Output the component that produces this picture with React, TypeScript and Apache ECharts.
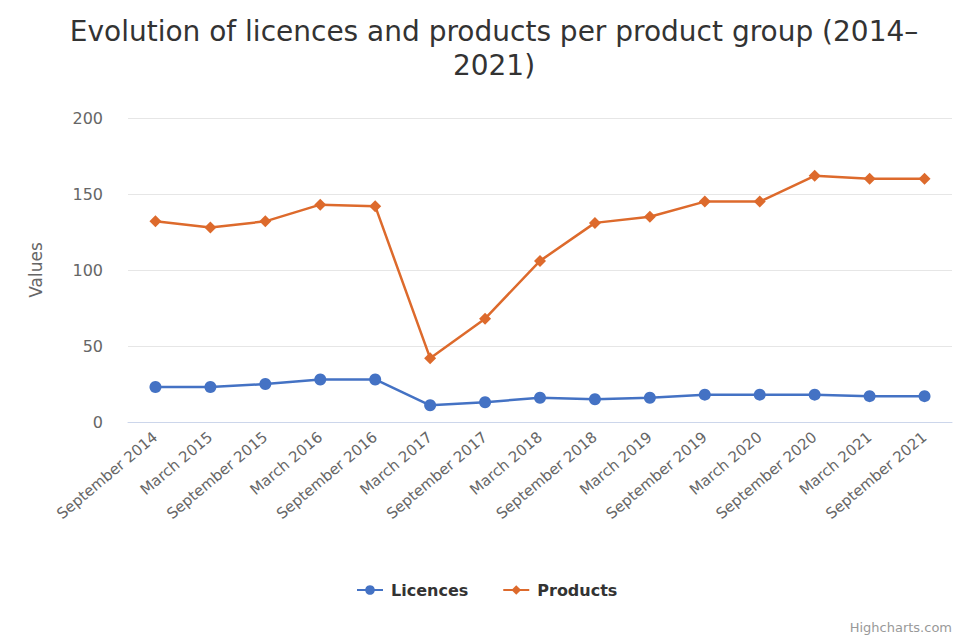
import React, { useEffect, useRef } from "react";
import * as echarts from "echarts";

const categories = [
  "September 2014", "March 2015", "September 2015", "March 2016", "September 2016",
  "March 2017", "September 2017", "March 2018", "September 2018", "March 2019",
  "September 2019", "March 2020", "September 2020", "March 2021", "September 2021",
];
const licences = [23, 23, 25, 28, 28, 11, 13, 16, 15, 16, 18, 18, 18, 17, 17];
const products = [132, 128, 132, 143, 142, 42, 68, 106, 131, 135, 145, 145, 162, 160, 160];

const FONT = "DejaVu Sans";

export default function App() {
  const ref = useRef<HTMLDivElement>(null);
  useEffect(() => {
    if (!ref.current) return;
    const chart = echarts.init(ref.current, undefined, { renderer: "svg" });
    chart.setOption({
      animation: false,
      backgroundColor: "#ffffff",
      title: {
        text: "Evolution of licences and products per product group (2014–\n2021)",
        left: 489,
        top: 9,
        textAlign: "center",
        textStyle: {
          fontFamily: FONT,
          fontSize: 28,
          fontWeight: "normal",
          color: "#333333",
          lineHeight: 34,
        },
      },
      legend: {
        bottom: 34,
        left: 351,
        itemWidth: 26,
        itemHeight: 12,
        itemGap: 34,
        textStyle: { fontFamily: FONT, fontSize: 16, fontWeight: "bold", color: "#333333", padding: [0, 0, 0, 3] },
        data: ["Licences", "Products"],
      },
      grid: { left: 128, right: 2, top: 118, bottom: 215 },
      xAxis: {
        type: "category",
        data: categories,
        boundaryGap: true,
        axisLine: { lineStyle: { color: "#ccd6eb" } },
        axisTick: { show: false },
        axisLabel: {
          rotate: 40,
          interval: 0,
          margin: 13,
          fontFamily: FONT,
          fontSize: 15,
          color: "#666666",
        },
      },
      yAxis: {
        type: "value",
        min: 0,
        max: 200,
        interval: 50,
        name: "Values",
        nameLocation: "middle",
        nameGap: 84,
        nameTextStyle: { fontFamily: FONT, fontSize: 17, color: "#666666" },
        axisLabel: { fontFamily: FONT, fontSize: 16, color: "#666666", margin: 25 },
        splitLine: { lineStyle: { color: "#e6e6e6" } },
        axisLine: { show: false },
        axisTick: { show: false },
      },
      series: [
        {
          name: "Licences",
          type: "line",
          data: licences,
          symbol: "circle",
          symbolSize: 12,
          color: "#4472c4",
          lineStyle: { width: 2.5, color: "#4472c4" },
          itemStyle: { color: "#4472c4" },
        },
        {
          name: "Products",
          type: "line",
          data: products,
          symbol: "diamond",
          symbolSize: 12,
          color: "#dd6a2c",
          lineStyle: { width: 2.5, color: "#dd6a2c" },
          itemStyle: { color: "#dd6a2c" },
        },
      ],
      graphic: [
        {
          type: "text",
          right: 2,
          bottom: 3,
          style: { text: "Highcharts.com", fontFamily: FONT, fontSize: 13, fill: "#999999" },
        },
      ],
    });
    return () => chart.dispose();
  }, []);
  return (
    <div
      ref={ref}
      style={{ position: "absolute", left: 0, top: 0, width: 954, height: 637 }}
    />
  );
}
